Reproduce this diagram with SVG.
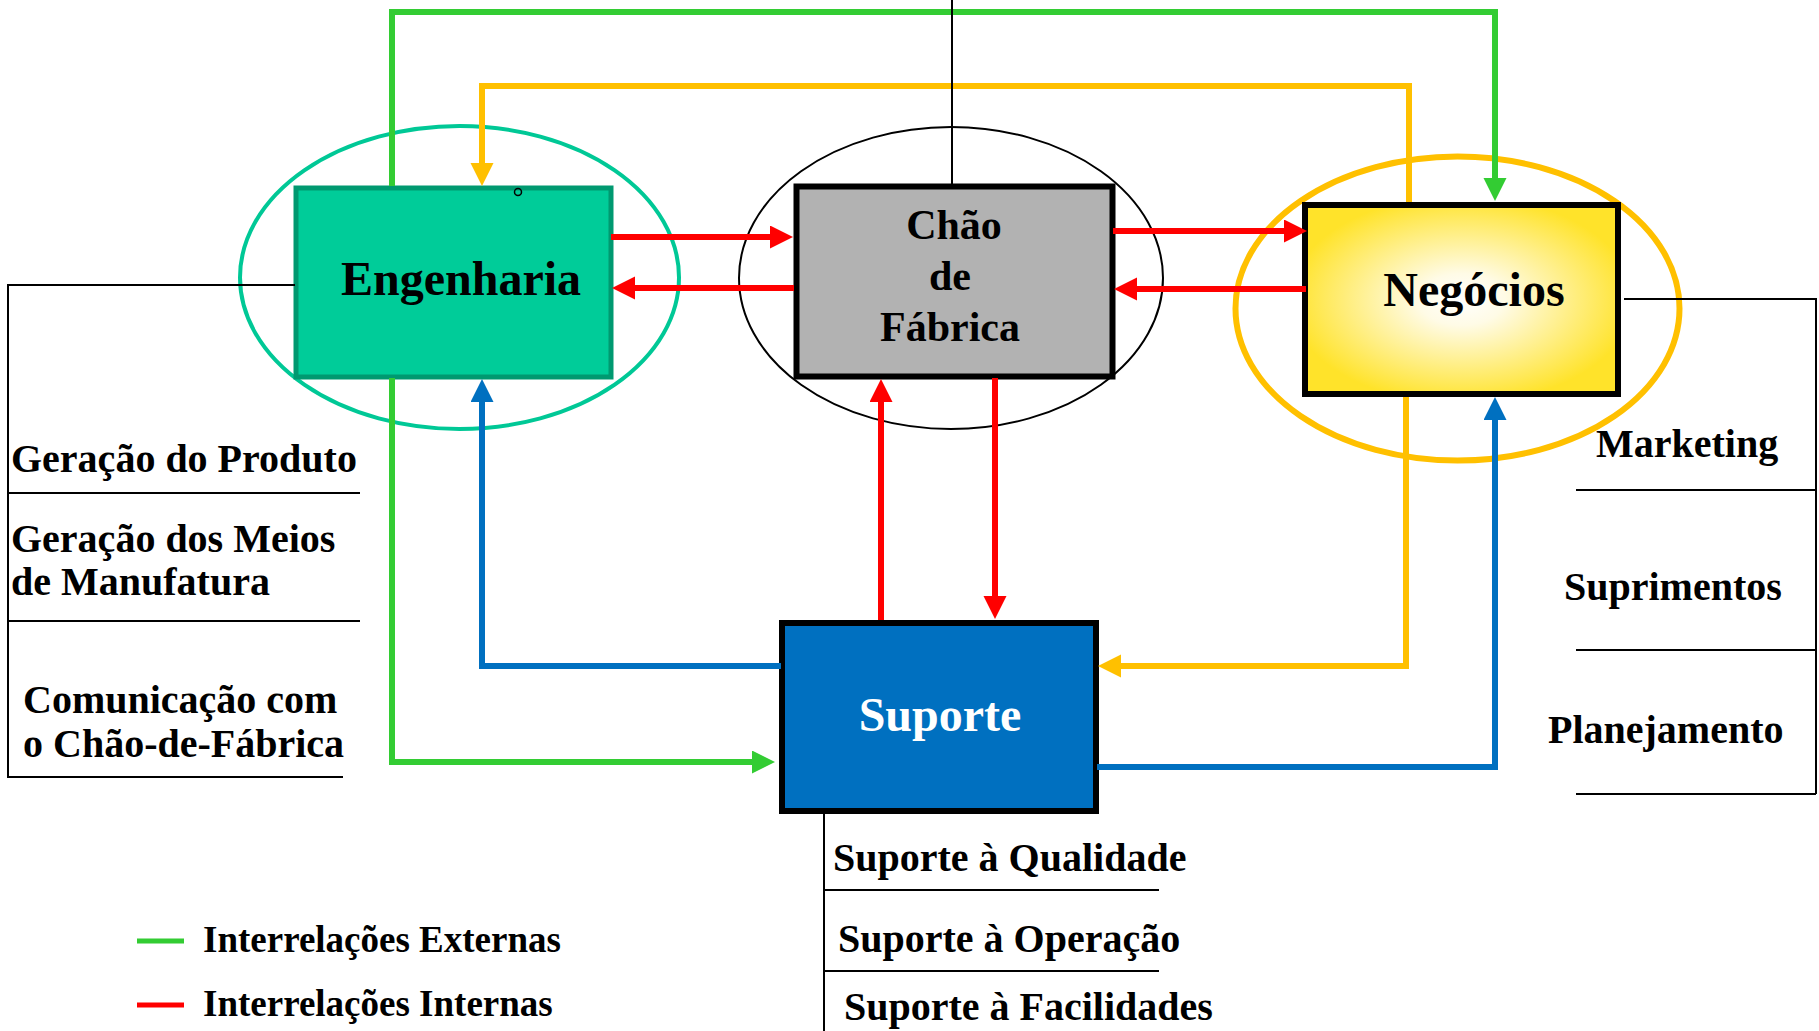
<svg xmlns="http://www.w3.org/2000/svg" width="1819" height="1031" viewBox="0 0 1819 1031">
<style>
text{font-family:"Liberation Serif","Times New Roman",serif;font-weight:bold;fill:#000}
.big{font-size:48px}
.mid{font-size:42px}
.lab{font-size:40px}
.leg{font-size:37px}
.thin{fill:none;stroke:#000;stroke-width:2}
.c{fill:none;stroke-width:6;stroke-linejoin:miter}
.g{stroke:#33CC33}
.y{stroke:#FFC000}
.r{stroke:#FF0000}
.b{stroke:#0070C0}
</style>
<defs>
<marker id="ag" markerUnits="userSpaceOnUse" markerWidth="24" markerHeight="24" refX="12" refY="11.5" orient="auto"><path d="M0,0 L23,11.5 L0,23 z" fill="#33CC33"/></marker>
<marker id="ay" markerUnits="userSpaceOnUse" markerWidth="24" markerHeight="24" refX="12" refY="11.5" orient="auto"><path d="M0,0 L23,11.5 L0,23 z" fill="#FFC000"/></marker>
<marker id="ar" markerUnits="userSpaceOnUse" markerWidth="24" markerHeight="24" refX="12" refY="11.5" orient="auto"><path d="M0,0 L23,11.5 L0,23 z" fill="#FF0000"/></marker>
<marker id="ab" markerUnits="userSpaceOnUse" markerWidth="24" markerHeight="24" refX="12" refY="11.5" orient="auto"><path d="M0,0 L23,11.5 L0,23 z" fill="#0070C0"/></marker>
<radialGradient id="neg" cx="50%" cy="50%" r="55%">
<stop offset="0" stop-color="#FFFFFF"/>
<stop offset="0.25" stop-color="#FFFBE6"/>
<stop offset="1" stop-color="#FFE32A"/>
</radialGradient>
</defs>

<g id="engenharia">
<ellipse cx="459.5" cy="277.5" rx="219.5" ry="151.5" fill="none" stroke="#00C896" stroke-width="4"/>
<rect x="296" y="188" width="315" height="189" fill="#00CC99" stroke="#009970" stroke-width="5"/>
<circle cx="518" cy="192" r="3.5" fill="none" stroke="#000" stroke-width="1.5"/>
<text class="big" x="461" y="295" text-anchor="middle">Engenharia</text>
</g>

<g id="chao">
<ellipse cx="951" cy="278" rx="212" ry="151" fill="none" stroke="#000" stroke-width="2"/>
<rect x="796.5" y="186.5" width="316" height="190" fill="#B2B2B2" stroke="#000" stroke-width="6"/>
<text class="mid" x="954" y="239" text-anchor="middle">Chão</text>
<text class="mid" x="950" y="290" text-anchor="middle">de</text>
<text class="mid" x="950" y="341" text-anchor="middle">Fábrica</text>
</g>

<g id="negocios">
<ellipse cx="1457.5" cy="308.5" rx="222" ry="152" fill="none" stroke="#FFC000" stroke-width="6"/>
<rect x="1305" y="205" width="313" height="189" fill="url(#neg)" stroke="#000" stroke-width="6"/>
<text class="big" x="1474" y="306" text-anchor="middle">Negócios</text>
</g>

<g id="suporte">
<rect x="782" y="623" width="314" height="188" fill="#0070C0" stroke="#000" stroke-width="6"/>
<text class="big" x="940" y="731" text-anchor="middle" style="fill:#FFFFFF">Suporte</text>
</g>

<g id="connectors">
<path class="c g" d="M392,186 V12 H1495 V190" marker-end="url(#ag)"/>
<path class="c g" d="M392,378 V762 H764" marker-end="url(#ag)"/>
<path class="c y" d="M1409,202 V86 H482 V175" marker-end="url(#ay)"/>
<path class="c y" d="M1406,397 V666 H1109" marker-end="url(#ay)"/>
<path class="c b" d="M781,666 H482 V390" marker-end="url(#ab)"/>
<path class="c b" d="M1097,767 H1495 V408" marker-end="url(#ab)"/>
<path class="c r" d="M611,237 H782" marker-end="url(#ar)"/>
<path class="c r" d="M794,288 H623" marker-end="url(#ar)"/>
<path class="c r" d="M1113,231 H1296" marker-end="url(#ar)"/>
<path class="c r" d="M1306,289 H1125" marker-end="url(#ar)"/>
<path class="c r" d="M881,620 V390" marker-end="url(#ar)"/>
<path class="c r" d="M995,378 V608" marker-end="url(#ar)"/>
</g>

<g id="eng-labels">
<path class="thin" d="M295,285 H8 V778"/>
<path class="thin" d="M8,493 H360 M8,621 H360 M8,777 H343"/>
<text class="lab" x="11" y="472">Geração do Produto</text>
<text class="lab" x="11" y="552">Geração dos Meios</text>
<text class="lab" x="11" y="595">de Manufatura</text>
<text class="lab" x="23" y="713">Comunicação com</text>
<text class="lab" x="23" y="757">o Chão-de-Fábrica</text>
</g>

<g id="chao-line">
<path class="thin" d="M952,0 V184"/>
</g>

<g id="neg-labels">
<path class="thin" d="M1624,299 H1816 V794"/>
<path class="thin" d="M1576,490 H1816 M1576,650 H1816 M1576,794 H1816"/>
<text class="lab" x="1596" y="457">Marketing</text>
<text class="lab" x="1564" y="600">Suprimentos</text>
<text class="lab" x="1548" y="743">Planejamento</text>
</g>

<g id="sup-labels">
<path class="thin" d="M824,813 V1031"/>
<path class="thin" d="M824,890 H1159 M824,971 H1159"/>
<text class="lab" x="833" y="871">Suporte à Qualidade</text>
<text class="lab" x="838" y="952">Suporte à Operação</text>
<text class="lab" x="844" y="1020">Suporte à Facilidades</text>
</g>

<g id="legend">
<line x1="137" y1="941" x2="184" y2="941" stroke="#33CC33" stroke-width="5"/>
<line x1="137" y1="1005" x2="184" y2="1005" stroke="#FF0000" stroke-width="5"/>
<text class="leg" x="203" y="952">Interrelações Externas</text>
<text class="leg" x="203" y="1016">Interrelações Internas</text>
</g>
</svg>
